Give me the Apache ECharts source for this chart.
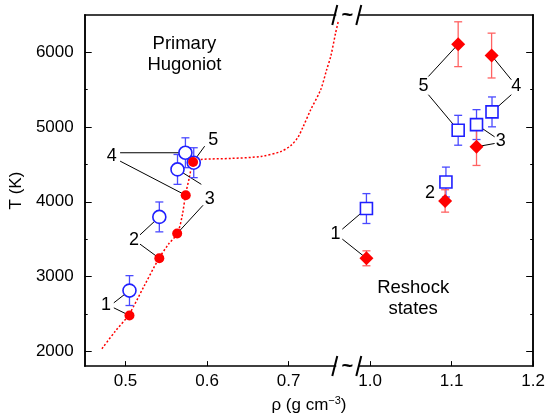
<!DOCTYPE html>
<html>
<head>
<meta charset="utf-8">
<script src="https://cdn.jsdelivr.net/npm/echarts/dist/echarts.min.js"></script>
<style>
html,body{margin:0;padding:0;background:#fff;}
#main{width:548px;height:419px;}
</style>
</head>
<body>
<div id="main"></div>
<script>
// density axis is broken: real values above 0.85 are drawn 0.2 to the left
var SHIFT = 0.2;
function brk(x){ return x > 0.85 ? x - SHIFT : x; }

// primary Hugoniot, measured (blue circles) [rho, T, err]
var hugRho = [0.5049, 0.5415, 0.5638, 0.5735, 0.5837];
var hugT   = [2811, 3797, 4433, 4656, 4523];
var hugErr = [200, 200, 200, 200, 200];
// primary Hugoniot, red dots
var hugCalcRho = [0.5049, 0.5415, 0.5634, 0.5739, 0.5829];
var hugCalcT   = [2477, 3243, 3576, 4087, 4531];

// dotted model curve
var curveRho = [0.4711, 0.487, 0.504, 0.5223, 0.5406, 0.5528, 0.5638, 0.5699, 0.5735, 0.5784, 0.5833,
                0.593, 0.6296, 0.6662, 0.6906, 0.7028, 0.7113, 0.7174, 0.7272, 0.7394, 0.7467, 0.7516, 0.7577, 0.7614];
var curveT   = [2033, 2260, 2487, 2860, 3233, 3433, 3580, 3833, 4087, 4327, 4540,
                4567, 4580, 4607, 4673, 4753, 4860, 4993, 5233, 5500, 5767, 5940, 6260, 6433];

// reshock states, blue squares
var reBlueRho = [0.9955, 1.093, 1.1305, 1.1495, 1.108];
var reBlueT   = [3909, 4264, 5033, 5203, 4957];
var reBlueErr = [200, 200, 200, 200, 200];
// reshock states, red diamonds
var reRedRho = [0.9955, 1.092, 1.1305, 1.149, 1.108];
var reRedT   = [3243, 4011, 4736, 5957, 6109];
var reRedErr = [100, 150, 250, 300, 300];

// shot numbers and their leader lines [rho1, T1, rho2, T2]
var numRho  = [0.4760, 0.5105, 0.6032, 0.4833, 0.6077, 0.9577, 1.0735, 1.1601, 1.1793, 1.0654];
var numT    = [2620, 3491, 4033, 4611, 4820, 3567, 4123, 4811, 5544, 5544];
var numText = ['1', '2', '3', '4', '5', '1', '2', '3', '4', '5'];
var leaders = [
  [0.4857, 2647, 0.5049, 2811], [0.4857, 2580, 0.5049, 2477],
  [0.5178, 3557, 0.5415, 3797], [0.5178, 3433, 0.5415, 3243],
  [0.5930, 4233, 0.5638, 4433], [0.5951, 3953, 0.5634, 3576],
  [0.4934, 4656, 0.5735, 4656], [0.4934, 4544, 0.5739, 4087],
  [0.5971, 4744, 0.5829, 4531],
  [0.9659, 3633, 0.9955, 3909], [0.9659, 3500, 0.9955, 3243],
  [1.1527, 4869, 1.1305, 5033], [1.1527, 4780, 1.1305, 4736],
  [1.1732, 5633, 1.149, 5957], [1.1732, 5433, 1.1495, 5203],
  [1.0715, 5677, 1.108, 6109], [1.0715, 5433, 1.108, 4957]
];

// region captions
var capRho  = [0.5723, 1.0528];
var capT    = [5967, 2700];
var capText = ['Primary\nHugoniot', 'Reshock\nstates'];

// ticks
var xTicks = [0.5, 0.6, 0.7, 0.8, 0.9, 1.0];
var yTicks = [2000, 3000, 4000, 5000, 6000];
var yMinor = [2500, 3500, 4500, 5500];
var breakAt = [[0.772, 6500], [0.772, 1800]];

var FONT = 'Liberation Sans, Arial, sans-serif';
var BLUE = '#1f1fff', BLUE_ERR = '#4a4aff';
var RED = '#ff0000', RED_ERR = '#ff6262';

function zip(xs, ys, es){
  return xs.map(function(x, i){ return es ? [brk(x), ys[i], es[i]] : [brk(x), ys[i]]; });
}

function errBar(color){
  return function(params, api){
    var top = api.coord([api.value(0), api.value(1) + api.value(2)]);
    var bot = api.coord([api.value(0), api.value(1) - api.value(2)]);
    var st = {stroke: color, lineWidth: 1.3};
    return {type: 'group', children: [
      {type: 'line', shape: {x1: top[0], y1: top[1], x2: bot[0], y2: bot[1]}, style: st},
      {type: 'line', shape: {x1: top[0]-4, y1: top[1], x2: top[0]+4, y2: top[1]}, style: st},
      {type: 'line', shape: {x1: bot[0]-4, y1: bot[1], x2: bot[0]+4, y2: bot[1]}, style: st}
    ]};
  };
}

function textItem(size, lh){
  return function(params, api){
    var p = api.coord([api.value(0), api.value(1)]);
    return {type: 'text', x: p[0], y: p[1], style: {
      text: api.value(2), fill: '#000', font: size + 'px ' + FONT,
      align: 'center', verticalAlign: 'middle', textAlign: 'center', textVerticalAlign: 'middle', lineHeight: lh
    }};
  };
}

var chart = echarts.init(document.getElementById('main'));

var yBase = {
  type: 'value', min: 1800, max: 6500, gridIndex: 0,
  axisLine: {show: true, lineStyle: {color: '#000', width: 1.5}},
  splitLine: {show: false}
};

chart.setOption({
  animation: false,
  backgroundColor: '#fff',
  grid: {left: 82, right: 14, top: 15, bottom: 52},
  xAxis: [{
    type: 'value', min: 0.45, max: 1.0, position: 'bottom',
    name: 'ρ (g cm{sup|−3})', nameLocation: 'middle', nameGap: 19,
    nameTextStyle: {fontFamily: FONT, fontSize: 17, color: '#000',
      rich: {sup: {fontFamily: FONT, fontSize: 11, color: '#000', verticalAlign: 'top', padding: [0, 0, 10, 0]}}},
    axisLine: {show: true, lineStyle: {color: '#000', width: 1.5}},
    axisTick: {show: true, inside: true, length: 5, customValues: xTicks, lineStyle: {color: '#000', width: 1}},
    axisLabel: {customValues: xTicks, margin: 7, fontFamily: FONT, fontSize: 17, color: '#000',
      formatter: function(v){ return (v > 0.75 ? v + SHIFT : v).toFixed(1); }},
    splitLine: {show: false}
  }, {
    type: 'value', min: 0.45, max: 1.0, position: 'top',
    axisLine: {show: true, lineStyle: {color: '#000', width: 1.5}},
    axisTick: {show: false}, axisLabel: {show: false}, splitLine: {show: false}
  }],
  yAxis: [
    Object.assign({}, yBase, {
      position: 'left', name: 'T (K)', nameLocation: 'middle', nameGap: 56, nameRotate: 90,
      nameTextStyle: {fontFamily: FONT, fontSize: 17, color: '#000'},
      axisTick: {show: true, inside: true, length: 7, customValues: yTicks, lineStyle: {color: '#000', width: 1}},
      axisLabel: {customValues: yTicks, margin: 11, fontFamily: FONT, fontSize: 17, color: '#000',
        formatter: function(v){ return String(v); }}
    }),
    Object.assign({}, yBase, {
      position: 'right',
      axisTick: {show: true, inside: true, length: 7, customValues: yTicks, lineStyle: {color: '#000', width: 1}},
      axisLabel: {show: false}
    }),
    Object.assign({}, yBase, {
      position: 'left',
      axisTick: {show: true, inside: true, length: 3, customValues: yMinor, lineStyle: {color: '#000', width: 1}},
      axisLabel: {show: false}
    }),
    Object.assign({}, yBase, {
      position: 'right',
      axisTick: {show: true, inside: true, length: 3, customValues: yMinor, lineStyle: {color: '#000', width: 1}},
      axisLabel: {show: false}
    })
  ],
  series: [
    {
      type: 'line', data: zip(curveRho, curveT), smooth: 0.3, symbol: 'none', z: 2,
      lineStyle: {color: RED, width: 1.5, type: [2, 2]}
    },
    {
      type: 'custom', z: 3,
      data: leaders.map(function(s){ return [brk(s[0]), s[1], brk(s[2]), s[3]]; }),
      renderItem: function(params, api){
        var a = api.coord([api.value(0), api.value(1)]);
        var b = api.coord([api.value(2), api.value(3)]);
        return {type: 'line', shape: {x1: a[0], y1: a[1], x2: b[0], y2: b[1]}, style: {stroke: '#000', lineWidth: 1}};
      }
    },
    {type: 'custom', z: 4, data: zip(hugRho, hugT, hugErr), renderItem: errBar(BLUE_ERR)},
    {type: 'custom', z: 4, data: zip(reBlueRho, reBlueT, reBlueErr), renderItem: errBar(BLUE_ERR)},
    {type: 'custom', z: 4, data: zip(reRedRho, reRedT, reRedErr), renderItem: errBar(RED_ERR)},
    {
      type: 'scatter', z: 5, data: zip(hugRho, hugT), symbol: 'circle', symbolSize: 13,
      itemStyle: {color: '#fff', borderColor: BLUE, borderWidth: 1.6, opacity: 1}
    },
    {
      type: 'scatter', z: 5, data: zip(reBlueRho, reBlueT), symbol: 'rect', symbolSize: 12,
      itemStyle: {color: '#fff', borderColor: BLUE, borderWidth: 1.6, opacity: 1}
    },
    {
      type: 'scatter', z: 6, data: zip(hugCalcRho, hugCalcT), symbol: 'circle', symbolSize: 10,
      itemStyle: {color: RED, opacity: 1}
    },
    {
      type: 'scatter', z: 6, data: zip(reRedRho, reRedT), symbol: 'diamond', symbolSize: 14,
      itemStyle: {color: RED, opacity: 1}
    },
    {
      type: 'custom', z: 7,
      data: numRho.map(function(x, i){ return [brk(x), numT[i], numText[i]]; }),
      renderItem: textItem(18, 20)
    },
    {
      type: 'custom', z: 7,
      data: capRho.map(function(x, i){ return [brk(x), capT[i], capText[i]]; }),
      renderItem: textItem(18.5, 21)
    },
    {
      type: 'custom', z: 10, clip: false, data: breakAt,
      renderItem: function(params, api){
        var p = api.coord([api.value(0), api.value(1)]);
        var x = p[0], y = p[1];
        var st = {stroke: '#000', lineWidth: 2};
        return {type: 'group', children: [
          {type: 'rect', shape: {x: x - 11, y: y - 3, width: 22, height: 6}, style: {fill: '#fff'}},
          {type: 'line', shape: {x1: x - 15, y1: y + 10, x2: x - 10, y2: y - 10}, style: st},
          {type: 'line', shape: {x1: x + 9, y1: y + 10, x2: x + 14, y2: y - 10}, style: st},
          {type: 'text', x: x, y: y, style: {text: '~', font: 'bold 20px ' + FONT, fill: '#000',
            align: 'center', verticalAlign: 'middle', textAlign: 'center', textVerticalAlign: 'middle'}}
        ]};
      }
    }
  ]
});
</script>
</body>
</html>
